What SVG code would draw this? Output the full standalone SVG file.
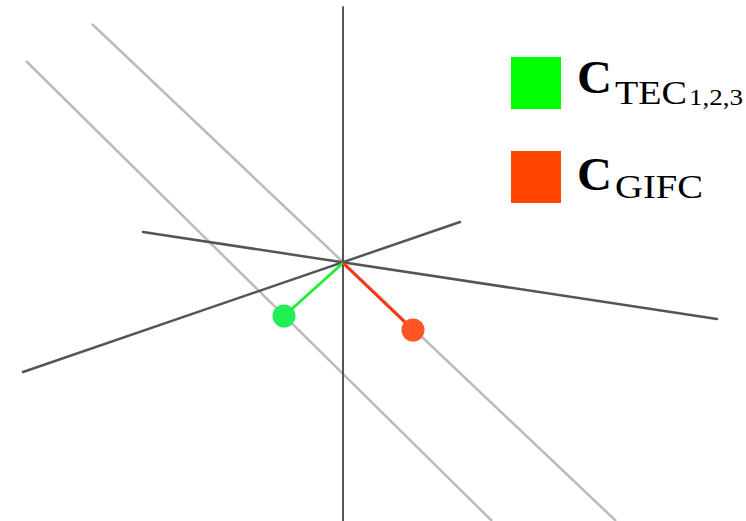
<svg xmlns="http://www.w3.org/2000/svg" width="746" height="521" viewBox="0 0 746 521">
<style>
.axis{stroke:#555;stroke-width:2.5;fill:none;stroke-linecap:round}
.guide{stroke:#bbb;stroke-width:2.5;fill:none}
.lbl{font-family:"Liberation Serif","DejaVu Serif",serif;fill:#000}
.big{font-size:46px;font-weight:bold}
.sub{font-size:33px}
.sub2{font-size:23px}
</style>
<rect width="746" height="521" fill="#fff"/>
<g id="connectors">
<line class="guide" x1="92" y1="24" x2="616" y2="521"/>
<line class="guide" x1="26" y1="61" x2="492" y2="521"/>
<line class="axis" x1="343" y1="7" x2="343" y2="521" style="stroke-width:2"/>
<line class="axis" x1="143" y1="232" x2="717" y2="319"/>
<line class="axis" x1="23" y1="372" x2="460" y2="222"/>
<line x1="343" y1="263" x2="284" y2="316" stroke="#22ee33" stroke-width="3"/>
<line x1="343" y1="263" x2="413" y2="330" stroke="#ff3311" stroke-width="3"/>
</g>
<g id="point-tec"><circle cx="284" cy="316" r="11.5" fill="#22ee55"/></g>
<g id="point-gifc"><circle cx="413" cy="330" r="11.5" fill="#ff5522"/></g>
<g id="legend-tec">
<rect x="511" y="57" width="50" height="52" fill="#00ff00"/>
<text class="lbl big" x="577" y="93" textLength="35" lengthAdjust="spacingAndGlyphs">C</text>
<text class="lbl sub" x="615" y="104" textLength="72" lengthAdjust="spacingAndGlyphs">TEC</text>
<text class="lbl sub2" x="689" y="105" textLength="54" lengthAdjust="spacingAndGlyphs">1,2,3</text>
</g>
<g id="legend-gifc">
<rect x="511" y="151" width="50" height="52" fill="#ff4500"/>
<text class="lbl big" x="577" y="190" textLength="35" lengthAdjust="spacingAndGlyphs">C</text>
<text class="lbl sub" x="615" y="198" textLength="88" lengthAdjust="spacingAndGlyphs">GIFC</text>
</g>
</svg>
